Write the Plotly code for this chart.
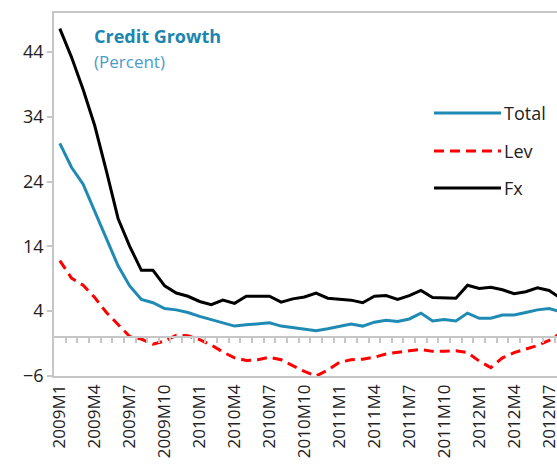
import plotly.graph_objects as go

months = [f"{y}M{m}" for y in range(2009, 2013) for m in range(1, 13)][:44]

total = [29.9, 26.2, 23.6, 19.4, 15.3, 11.0, 7.9, 5.8, 5.3, 4.4, 4.2, 3.8,
         3.2, 2.7, 2.2, 1.7, 1.9, 2.0, 2.2, 1.7, 1.5, 1.3, 1.0, 1.3,
         1.7, 2.0, 1.7, 2.3, 2.6, 2.4, 2.8, 3.7, 2.5, 2.7, 2.5, 3.7,
         2.9, 2.9, 3.4, 3.4, 3.8, 4.2, 4.4, 3.9]
lev = [11.8, 9.1, 8.0, 6.1, 3.8, 1.9, 0.1, -0.3, -1.1, -0.6, 0.3, 0.2,
       -0.4, -1.2, -2.3, -3.2, -3.6, -3.5, -3.1, -3.5, -4.4, -5.3, -6.0, -5.1,
       -3.9, -3.5, -3.4, -3.1, -2.6, -2.3, -2.1, -1.9, -2.2, -2.2, -2.1, -2.4,
       -3.7, -4.7, -3.2, -2.4, -1.8, -1.3, -0.5, 0.6]
fx = [47.6, 43.2, 38.2, 32.6, 25.6, 18.3, 14.0, 10.3, 10.3, 7.9, 6.8, 6.3,
      5.5, 5.0, 5.7, 5.2, 6.3, 6.3, 6.3, 5.4, 5.9, 6.2, 6.8, 6.0,
      5.9, 5.7, 5.3, 6.3, 6.4, 5.8, 6.4, 7.2, 6.1, 6.1, 6.0, 8.0,
      7.5, 7.7, 7.3, 6.7, 7.0, 7.6, 7.2, 6.0]

y_ticks = [-6, 4, 14, 24, 34, 44]
series_names = ["Total", "Lev", "Fx"]

TEAL = "#1f8ab3"
RED = "#ff0000"
BLACK = "#000000"
GRID = "#c6c6c6"
FONT = "Open Sans"

idx = list(range(len(months)))
x_end = 42.68
y_min, y_max = -6, 50

fig = go.Figure()
fig.add_trace(go.Scatter(x=idx, y=total, mode="lines", name="Total",
                         line=dict(color=TEAL, width=3)))
fig.add_trace(go.Scatter(x=idx, y=lev, mode="lines", name="Lev",
                         line=dict(color=RED, width=3, dash="10px,6px")))
fig.add_trace(go.Scatter(x=idx, y=fx, mode="lines", name="Fx",
                         line=dict(color=BLACK, width=3)))
# carrier for the zero axis with monthly ticks
fig.add_trace(go.Scatter(x=[], y=[], xaxis="x2", showlegend=False, hoverinfo="skip"))

fig.update_layout(
    width=557, height=464,
    margin=dict(l=54, r=0, t=13, b=88, autoexpand=False),
    paper_bgcolor="white", plot_bgcolor="white",
    showlegend=False,
    font=dict(family=FONT, size=17, color="#222222"),
    xaxis=dict(range=[-0.5, x_end], tickvals=idx[::3], ticktext=months[::3],
               tickangle=-90, ticks="", showgrid=False, zeroline=False,
               showline=True, linecolor=GRID, linewidth=1.5, mirror=True,
               automargin=False, ticklabeloverflow="allow",
               tickfont=dict(size=17)),
    xaxis2=dict(range=[-0.5, x_end], overlaying="x", anchor="free",
                position=(0 - y_min) / (y_max - y_min),
                tickvals=[i + 0.5 for i in idx], ticks="outside", ticklen=5,
                tickcolor=GRID, tickwidth=1.5, showticklabels=False,
                showgrid=False, zeroline=False, showline=True,
                linecolor=GRID, linewidth=1.5),
    yaxis=dict(range=[y_min, y_max], tickvals=y_ticks, ticks="outside",
               ticklen=5, tickcolor=GRID, tickwidth=1.5, showgrid=False,
               zeroline=False, showline=True, linecolor=GRID, linewidth=1.5,
               automargin=False, tickfont=dict(size=18)),
)

# title annotations
fig.add_annotation(x=(95 - 54) / 503, y=(376 - 36) / 363, xref="paper", yref="paper",
                   text="<b>Credit Growth</b>", showarrow=False, xanchor="left",
                   yanchor="middle", xshift=-3,
                   font=dict(family=FONT, size=18, color="#1a86b0"))
fig.add_annotation(x=(95 - 54) / 503, y=(376 - 61) / 363, xref="paper", yref="paper",
                   text="(Percent)", showarrow=False, xanchor="left",
                   yanchor="middle", xshift=-3,
                   font=dict(family=FONT, size=17, color="#4a9ccc"))

# manual legend
leg_styles = [dict(color=TEAL, width=3), dict(color=RED, width=3, dash="10px,6px"),
              dict(color=BLACK, width=3)]
leg_y = [113, 151, 188]
for name, st, py in zip(series_names, leg_styles, leg_y):
    yp = (376 - py) / 363
    fig.add_shape(type="line", xref="paper", yref="paper",
                  x0=(434 - 54) / 503, x1=(501 - 54) / 503, y0=yp, y1=yp, line=st)
    fig.add_annotation(x=(505 - 54) / 503, y=yp, xref="paper", yref="paper",
                       text=name, showarrow=False, xanchor="left", yanchor="middle",
                       xshift=-3, font=dict(family=FONT, size=18, color="#222222"))

fig.write_html("out.html", config={"displayModeBar": False},
               post_script="document.body.style.margin='0px';")
